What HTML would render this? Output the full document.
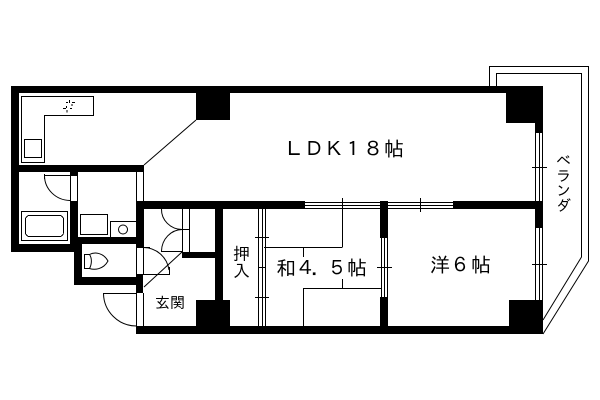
<!DOCTYPE html>
<html><head><meta charset="utf-8"><style>
html,body{margin:0;padding:0;background:#fff;width:600px;height:400px;overflow:hidden}
svg{display:block}
text{font-family:"IPAGothic","Liberation Sans","Noto Sans CJK JP",sans-serif;fill:#000}
</style></head><body>
<svg width="600" height="400" viewBox="0 0 600 400" xmlns="http://www.w3.org/2000/svg">
<rect width="600" height="400" fill="#fff"/>
<!-- balcony -->
<g fill="none" stroke="#000" stroke-width="1">
<path d="M489.5 86V66.5H588.5V261L543 334"/>
<path d="M496.5 86V73.5H581.5V257L543 320"/>
</g>
<!-- walls -->
<g fill="#000" shape-rendering="crispEdges">
<rect x="11" y="86" width="532" height="7"/>
<rect x="11" y="86" width="8" height="166"/>
<rect x="11" y="165" width="133" height="7"/>
<rect x="11" y="244" width="67" height="8"/>
<rect x="70" y="172" width="8" height="4"/>
<rect x="70" y="201" width="8" height="50"/>
<rect x="70" y="237" width="74" height="7"/>
<rect x="74" y="237" width="8" height="48"/>
<rect x="74" y="277" width="69" height="8"/>
<rect x="136" y="201" width="8" height="46"/>
<rect x="136" y="274" width="7" height="19"/>
<rect x="136" y="201" width="169" height="8"/>
<rect x="453" y="201" width="90" height="8"/>
<rect x="182" y="252" width="41" height="6"/>
<rect x="215" y="201" width="8" height="125"/>
<rect x="136" y="326" width="407" height="8"/>
<rect x="196" y="93" width="34" height="27"/>
<rect x="506" y="93" width="37" height="30"/>
<rect x="535" y="93" width="8" height="40"/>
<rect x="535" y="201" width="8" height="27"/>
<rect x="509" y="300" width="34" height="34"/>
<rect x="196" y="300" width="34" height="26"/>
<rect x="380" y="201" width="8" height="37"/>
<rect x="380" y="297" width="8" height="37"/>
</g>
<!-- straight lines -->
<g fill="none" stroke="#000" stroke-width="1" shape-rendering="crispEdges">
<!-- kitchen -->
<path d="M21.5 96.5H93.5V115.5H44.5V162.5H21.5Z"/>
<rect x="24.5" y="139.5" width="17" height="18"/>
<!-- door frames -->
<path d="M70.5 176V201M77.5 176V201M136.5 172V201M143.5 172V201"/>
<path d="M44.5 174V179M44 175.5H70"/>
<!-- bath -->
<rect x="21.5" y="211.5" width="46" height="29"/>
<rect x="25.5" y="215.5" width="38" height="21" rx="4"/>
<!-- washing -->
<rect x="80.5" y="214.5" width="27" height="20"/>
<path d="M136 221.5H110.5V237"/>
<!-- toilet -->
<path d="M89.5 254.5H84.5V268.5H89.5"/>
<!-- closet doors -->
<path d="M182.5 209V252M189.5 209V252M180 229.5H189M161 251.5H182"/>
<path d="M136.5 247V277M143.5 247V274M136 274.5H169.5V267M136 247.5H150"/>
<path d="M136.5 293V326M143.5 293V326M103 293.5H136"/>
<!-- windows -->
<path d="M305 202.5H380M305 205.5H380M305 208.5H380M388 202.5H453M388 205.5H453M388 208.5H453"/>
<path d="M342.5 198V247M420.5 198V212"/>
<path d="M381.5 238V297M384.5 238V297M387.5 238V297M377 267.5H392"/>
<path d="M535.5 133V201M539.5 133V201M542.5 133V201M532 167.5H547"/>
<path d="M535.5 228V300M539.5 228V300M542.5 228V300M532 264.5H547"/>
<path d="M258.5 209V326M262.5 209V326M265.5 209V326M255 237.5H269M258 267.5H266M255 297.5H269"/>
<!-- tatami -->
<path d="M264 247.5H342.5M303.5 247V257M342.5 279V288M303.5 288.5H381M303.5 288V326"/>
<!-- stove dashes -->
<path d="M69.5 100V103M66 102.5H68M72 102.5H75M63 108.5H66M66.5 106V108M67 110V112.5M70 108.5H72M72 104V106"/>
</g>
<!-- curves -->
<g fill="none" stroke="#000" stroke-width="1">
<path d="M144 165L196 120"/>
<path d="M44.5 176A26 25 0 0 0 70 200.5"/>
<path d="M161.5 209A21 20 0 0 0 182 229.5"/>
<path d="M182 229.5A21 22 0 0 0 161.5 251"/>
<path d="M143.5 247.5A26 26 0 0 1 169 270"/>
<path d="M103.5 293.5A33 33 0 0 0 136.5 326"/>
<path d="M182 252L144 287"/>
<circle cx="123" cy="229.5" r="4.5"/>
<path d="M89.5 254.5C94 252 103 252 108 261C103 270 94 270 89.5 268.5C92 264 92 258 89.5 254.5Z"/>
</g>
<!-- labels -->
<text x="284 304 324 343 363 384" y="156" font-size="20">ＬＤＫ１８帖</text>
<text x="276 296 311 327 347" y="275" font-size="20">和４．５帖</text>
<text x="430 450 471" y="272" font-size="20">洋６帖</text>
<text x="233" y="260" font-size="17">押</text>
<text x="233" y="277" font-size="17">入</text>
<text x="155" y="308" font-size="15">玄関</text>
<text x="556" y="166" font-size="15">ベ</text>
<text x="556" y="181" font-size="15">ラ</text>
<text x="556" y="196" font-size="15">ン</text>
<text x="556" y="211" font-size="15">ダ</text>
</svg>
</body></html>
